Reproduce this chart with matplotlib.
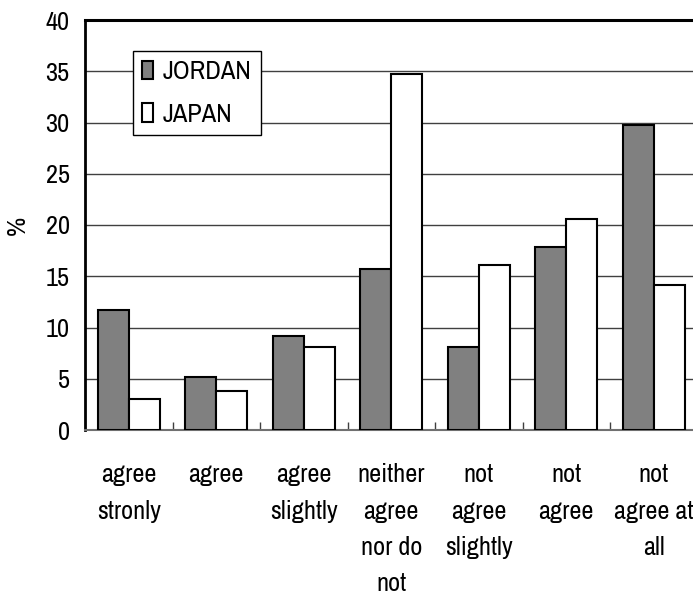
import matplotlib
matplotlib.use("Agg")
import matplotlib.pyplot as plt
import numpy as np
from matplotlib.ticker import FixedLocator, NullFormatter

plt.rcParams['font.family'] = ['Archivo Narrow', 'Liberation Sans', 'DejaVu Sans']

categories = ["agree\nstronly", "agree", "agree\nslightly", "neither\nagree\nnor do\nnot",
              "not\nagree\nslightly", "not\nagree", "not\nagree at\nall"]
jordan = [11.7, 5.2, 9.2, 15.7, 8.1, 17.9, 29.8]
japan = [3.0, 3.8, 8.1, 34.7, 16.1, 20.6, 14.1]
series_names = ["JORDAN", "JAPAN"]
yticks = [0, 5, 10, 15, 20, 25, 30, 35, 40]

W, H = 693, 604
fig = plt.figure(figsize=(W / 100, H / 100), dpi=100)
ax = fig.add_axes([85 / W, (H - 430) / H, 612.5 / W, 410 / H])

x = np.arange(len(categories))
bw = 0.355
ax.bar(x - bw / 2, jordan, bw, color='#808080', edgecolor='black', linewidth=1.5,
       label=series_names[0], zorder=3)
ax.bar(x + bw / 2, japan, bw, color='white', edgecolor='black', linewidth=1.5,
       label=series_names[1], zorder=3)

ax.set_xlim(-0.5, len(categories) - 0.5)
ax.set_ylim(0, 40)
ax.set_yticks(yticks)
ax.set_yticklabels([str(v) for v in yticks], fontsize=19)
ax.tick_params(axis='y', length=0, pad=11)
ax.set_xticks(x)
ax.set_xticklabels(categories, fontsize=19, linespacing=1.7, va='top')
ax.tick_params(axis='x', which='major', length=0, pad=24)
ax.xaxis.set_minor_locator(FixedLocator(np.arange(0.5, len(categories) - 0.5, 1.0)))
ax.xaxis.set_minor_formatter(NullFormatter())
ax.tick_params(axis='x', which='minor', direction='in', length=6, width=1, color='#404040')

ax.yaxis.grid(True, color='#404040', linewidth=1)
ax.set_axisbelow(True)
ax.grid(False, axis='x')

ax.spines['left'].set_linewidth(2)
ax.spines['left'].set_color('black')
ax.spines['top'].set_linewidth(2.2)
ax.spines['top'].set_color('black')
ax.spines['bottom'].set_linewidth(1.5)
ax.spines['bottom'].set_color('#707070')
ax.spines['right'].set_visible(False)

ax.set_ylabel('%', fontsize=19, labelpad=12)

leg = ax.legend(loc='upper left', bbox_to_anchor=((133 - 85) / 612.5, (430 - 51) / 410),
                borderaxespad=0, fontsize=19, frameon=True, fancybox=False,
                framealpha=1, edgecolor='black', handlelength=0.42, handleheight=0.72,
                handletextpad=0.35, borderpad=0.35, labelspacing=0.75)
leg.get_frame().set_linewidth(1)
leg.set_zorder(5)

fig.savefig('out.png', dpi=100)
